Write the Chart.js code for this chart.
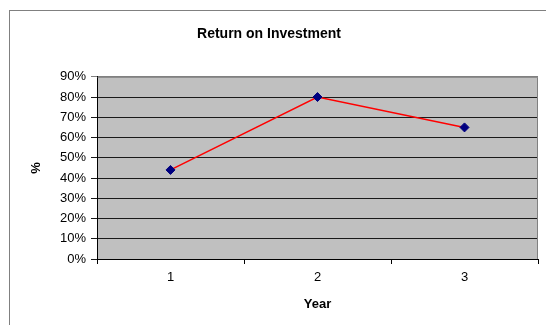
<!DOCTYPE html>
<html>
<head>
<meta charset="utf-8">
<script src="https://cdn.jsdelivr.net/npm/chart.js@4"></script>
<style>
    html, body { margin: 0; padding: 0; background: #ffffff; overflow: hidden; }
    #wrap { position: relative; width: 546px; height: 325px; }
    #frame {
        position: absolute; left: 9px; top: 10px; width: 600px; height: 400px;
        border-left: 1px solid #808080; border-top: 1px solid #808080;
    }
    #roiChart { position: absolute; left: 0; top: 0; }
</style>
</head>
<body>
<div id="wrap">
    <div id="frame"></div>
    <canvas id="roiChart" width="546" height="325"></canvas>
</div>
<script>
// ----------------------
//  DATA
// ----------------------
const years = ['1', '2', '3'];
const returnPct = [44, 80, 65];
const yTicks = [0, 10, 20, 30, 40, 50, 60, 70, 80, 90];

// plot area fill + border
const plotBackground = {
    id: 'plotBackground',
    beforeDraw(chart) {
        const { ctx, chartArea: a } = chart;
        ctx.save();
        ctx.fillStyle = '#c0c0c0';
        ctx.fillRect(a.left, a.top, a.right - a.left, a.bottom - a.top);
        ctx.restore();
    },
    afterDatasetsDraw(chart) {
        const { ctx, chartArea: a } = chart;
        ctx.save();
        ctx.strokeStyle = '#808080';
        ctx.lineWidth = 1;
        ctx.beginPath();
        ctx.moveTo(a.left + 0.5, a.top + 0.5);
        ctx.lineTo(a.right - 0.5, a.top + 0.5);
        ctx.lineTo(a.right - 0.5, a.bottom);
        ctx.stroke();
        ctx.restore();
    }
};

Chart.defaults.font.family = "'Liberation Sans', Arial, sans-serif";
Chart.defaults.color = '#000000';

const options = {
    responsive: false,
    animation: false,
    layout: {
        padding: { left: 0, right: 8, top: 0, bottom: 0 }
    },
    plugins: {
        legend: { display: false },
        tooltip: { enabled: false },
        title: {
            display: true,
            text: 'Return on Investment',
            font: { size: 14, weight: 'bold' },
            padding: { top: 26, bottom: 34 }
        }
    },
    scales: {
        x: {
            offset: true,
            grid: {
                offset: true,
                drawOnChartArea: false,
                drawTicks: true,
                tickLength: 5,
                color: '#000000'
            },
            border: { display: true, color: '#000000' },
            ticks: { font: { size: 13 }, padding: 6 },
            title: {
                display: true,
                text: 'Year',
                font: { size: 13, weight: 'bold' },
                padding: { top: 0, bottom: 13 }
            },
            afterFit: function (scale) { scale.height = 66; }
        },
        y: {
            min: 0,
            max: 90,
            afterBuildTicks: function (scale) {
                scale.ticks = yTicks.map(v => ({ value: v }));
            },
            grid: {
                drawTicks: true,
                tickLength: 6,
                color: function (c) {
                    return c.tick && c.tick.value === 90 ? '#808080' : '#1a1a1a';
                }
            },
            border: { display: true, color: '#000000' },
            ticks: {
                font: { size: 13 },
                padding: 5,
                callback: function (value) { return value + '%'; }
            },
            title: {
                display: true,
                text: '%',
                font: { size: 13, weight: 'bold' },
                padding: { top: 29 }
            },
            afterFit: function (scale) { scale.width = 97; }
        }
    }
};

const chartData = {
    labels: years,
    datasets: [{
        label: 'Return on Investment',
        data: returnPct,
        borderColor: '#ff0000',
        borderWidth: 1.5,
        pointStyle: 'rectRot',
        pointRadius: 4.5,
        pointBackgroundColor: '#000080',
        pointBorderColor: '#000080',
        pointBorderWidth: 1,
        tension: 0
    }]
};

let ctx = document.getElementById('roiChart').getContext('2d');
new Chart(ctx, {
    type: 'line',
    data: chartData,
    options: options,
    plugins: [plotBackground]
});
</script>
</body>
</html>
